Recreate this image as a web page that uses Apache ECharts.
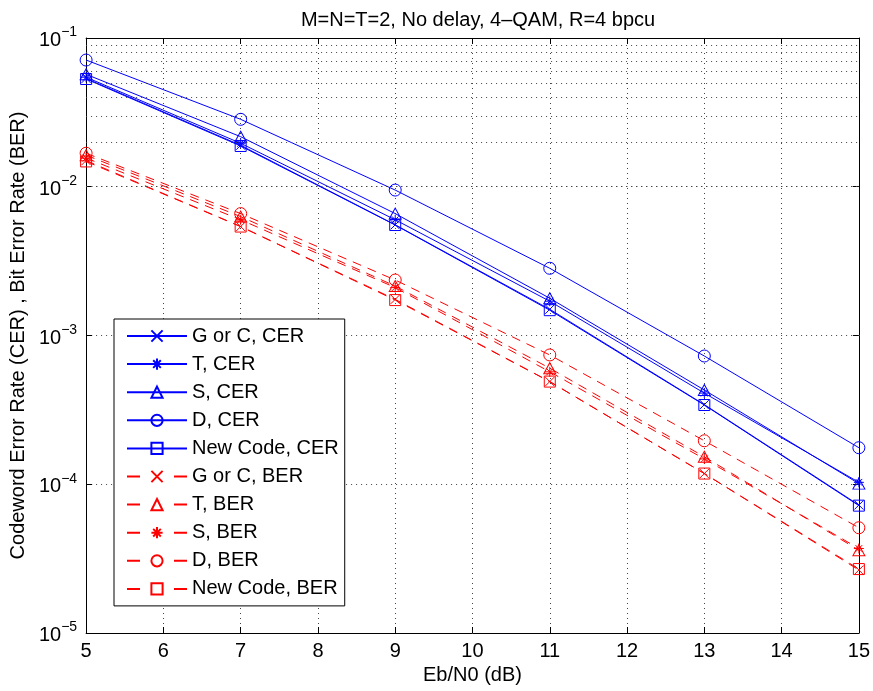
<!DOCTYPE html>
<html>
<head>
<meta charset="utf-8">
<script src="https://cdn.jsdelivr.net/npm/echarts@6/dist/echarts.min.js"></script>
<style>html,body{margin:0;padding:0;background:#fff}#c{width:873px;height:691px}</style>
</head>
<body>
<div id="c"></div>
<script>
var ebn0 = [5, 7, 9, 11, 13, 15];
var xTicks = [5, 6, 7, 8, 9, 10, 11, 12, 13, 14, 15];
var yTickExps = [-5, -4, -3, -2, -1];

var cerG   = [0.0535, 0.0190, 0.00555, 0.00150, 0.000343, 0.0000725];
var cerT   = [0.0545, 0.0196, 0.0060, 0.00170, 0.00041, 0.000103];
var cerS   = [0.0570, 0.0217, 0.0066, 0.00178, 0.00043, 0.000101];
var cerD   = [0.0711, 0.0284, 0.0095, 0.00283, 0.000728, 0.000176];
var cerNew = [0.0530, 0.0188, 0.00553, 0.00148, 0.000341, 0.0000718];

var berG   = [0.0150, 0.0054, 0.00175, 0.00049, 0.000118, 0.0000265];
var berT   = [0.0163, 0.0063, 0.00215, 0.000603, 0.000153, 0.0000360];
var berS   = [0.0156, 0.0060, 0.0021, 0.00057, 0.000148, 0.0000370];
var berD   = [0.0168, 0.0066, 0.00236, 0.00074, 0.000196, 0.000051];
var berNew = [0.0148, 0.0054, 0.00173, 0.00049, 0.000118, 0.0000269];

var names = ['G or C, CER', 'T, CER', 'S, CER', 'D, CER', 'New Code, CER',
             'G or C, BER', 'T, BER', 'S, BER', 'D, BER', 'New Code, BER'];

var SYM = {
  x: 'path://M0,0L10,10M10,0L0,10',
  star: 'path://M5,0L5,10M0,5L10,5M1.6,1.6L8.4,8.4M8.4,1.6L1.6,8.4',
  tri: 'path://M5,0L10,8.66L0,8.66Z',
  circle: 'circle',
  square: 'rect'
};
var SIZE = {x: 9, star: 10, tri: [12, 11], circle: 12, square: 11};

function pairs(vals) { return ebn0.map(function (x, i) { return [x, vals[i]]; }); }

function mk(name, vals, color, sym, dashed) {
  return {
    name: name, type: 'line', data: pairs(vals), z: 3,
    symbol: SYM[sym], symbolSize: SIZE[sym], showSymbol: true,
    lineStyle: {color: color, width: 1, type: dashed ? [9, 7] : 'solid'},
    itemStyle: {color: 'rgba(0,0,0,0)', borderColor: color, borderWidth: 1},
    emphasis: {disabled: true}, animation: false
  };
}

var minorVals = [];
yTickExps.slice(0, 4).forEach(function (e) {
  for (var m = 2; m <= 9; m++) minorVals.push(m * Math.pow(10, e));
});

var grid = {left: 84, right: 14, top: 38, bottom: 58};
var dotted = {color: '#444', width: 1, type: [1, 4]};

var series = [
  {
    name: 'grid-helper', type: 'line', data: [], z: 1, silent: true,
    markLine: {
      silent: true, symbol: 'none', label: {show: false}, animation: false,
      lineStyle: dotted, emphasis: {disabled: true},
      data: minorVals.map(function (v) { return {yAxis: v}; })
    }
  },
  mk(names[0], cerG, '#0000ff', 'x', false),
  mk(names[1], cerT, '#0000ff', 'star', false),
  mk(names[2], cerS, '#0000ff', 'tri', false),
  mk(names[3], cerD, '#0000ff', 'circle', false),
  mk(names[4], cerNew, '#0000ff', 'square', false),
  mk(names[5], berG, '#ff0000', 'x', true),
  mk(names[6], berT, '#ff0000', 'tri', true),
  mk(names[7], berS, '#ff0000', 'star', true),
  mk(names[8], berD, '#ff0000', 'circle', true),
  mk(names[9], berNew, '#ff0000', 'square', true)
];

var legendData = names.map(function (n, i) {
  return i < 5 ? {name: n} : {name: n, lineStyle: {type: [13, 34]}};
});

var font = 'Liberation Sans, Arial, Helvetica, sans-serif';

var option = {
  backgroundColor: '#fff',
  animation: false,
  textStyle: {fontFamily: font, color: '#000'},
  title: {
    text: 'M=N=T=2, No delay, 4\u2013QAM, R=4 bpcu',
    left: 473, textAlign: 'center', top: 5,
    textStyle: {fontSize: 20, fontWeight: 'normal', color: '#000', fontFamily: font}
  },
  grid: grid,
  legend: {
    data: legendData, orient: 'vertical', left: 114, top: 319,
    backgroundColor: '#fff', borderColor: '#000', borderWidth: 1,
    padding: [7, 6, 7, 12], itemGap: 8.1, itemWidth: 60, itemHeight: 14,
    textStyle: {fontSize: 20, lineHeight: 20, color: '#000', fontFamily: font},
    selectedMode: false
  },
  xAxis: [{
    type: 'value', min: 5, max: 15, interval: 1,
    name: 'Eb/N0 (dB)', nameLocation: 'middle', nameGap: 32,
    nameTextStyle: {fontSize: 20, color: '#000'},
    axisLine: {onZero: false, lineStyle: {color: '#000', width: 1}},
    axisTick: {inside: true, length: 6, lineStyle: {color: '#000'}},
    axisLabel: {fontSize: 20, color: '#000', margin: 8},
    splitLine: {show: true, lineStyle: dotted}
  }, {
    type: 'value', min: 5, max: 15, interval: 1, position: 'top',
    axisLine: {onZero: false, lineStyle: {color: '#000', width: 1}},
    axisTick: {inside: true, length: 6, lineStyle: {color: '#000'}},
    axisLabel: {show: false}, splitLine: {show: false}
  }],
  yAxis: [{
    type: 'log', logBase: 10, min: 1e-5, max: 1e-1,
    name: 'Codeword Error Rate (CER) , Bit Error Rate (BER)',
    nameLocation: 'middle', nameGap: 52, nameRotate: 90,
    nameTextStyle: {fontSize: 20, color: '#000'},
    axisLine: {onZero: false, lineStyle: {color: '#000', width: 1}},
    axisTick: {inside: true, length: 6, lineStyle: {color: '#000'}},
    axisLabel: {
      margin: 9,
      formatter: function (v) {
        var e = Math.round(Math.log10(v));
        return '{b|10}{s|\u2212' + Math.abs(e) + '}';
      },
      rich: {
        b: {fontSize: 20, color: '#000', verticalAlign: 'bottom', fontFamily: font},
        s: {fontSize: 14, color: '#000', verticalAlign: 'bottom', padding: [0, 0, 11, 0], fontFamily: font}
      }
    },
    splitLine: {show: true, lineStyle: dotted}
  }, {
    type: 'log', logBase: 10, min: 1e-5, max: 1e-1, position: 'right',
    axisLine: {onZero: false, lineStyle: {color: '#000', width: 1}},
    axisTick: {inside: true, length: 6, lineStyle: {color: '#000'}},
    axisLabel: {show: false}, splitLine: {show: false}
  }],
  series: series
};

var chart = echarts.init(document.getElementById('c'), null, {renderer: 'canvas'});
chart.setOption(option);
</script>
</body>
</html>
